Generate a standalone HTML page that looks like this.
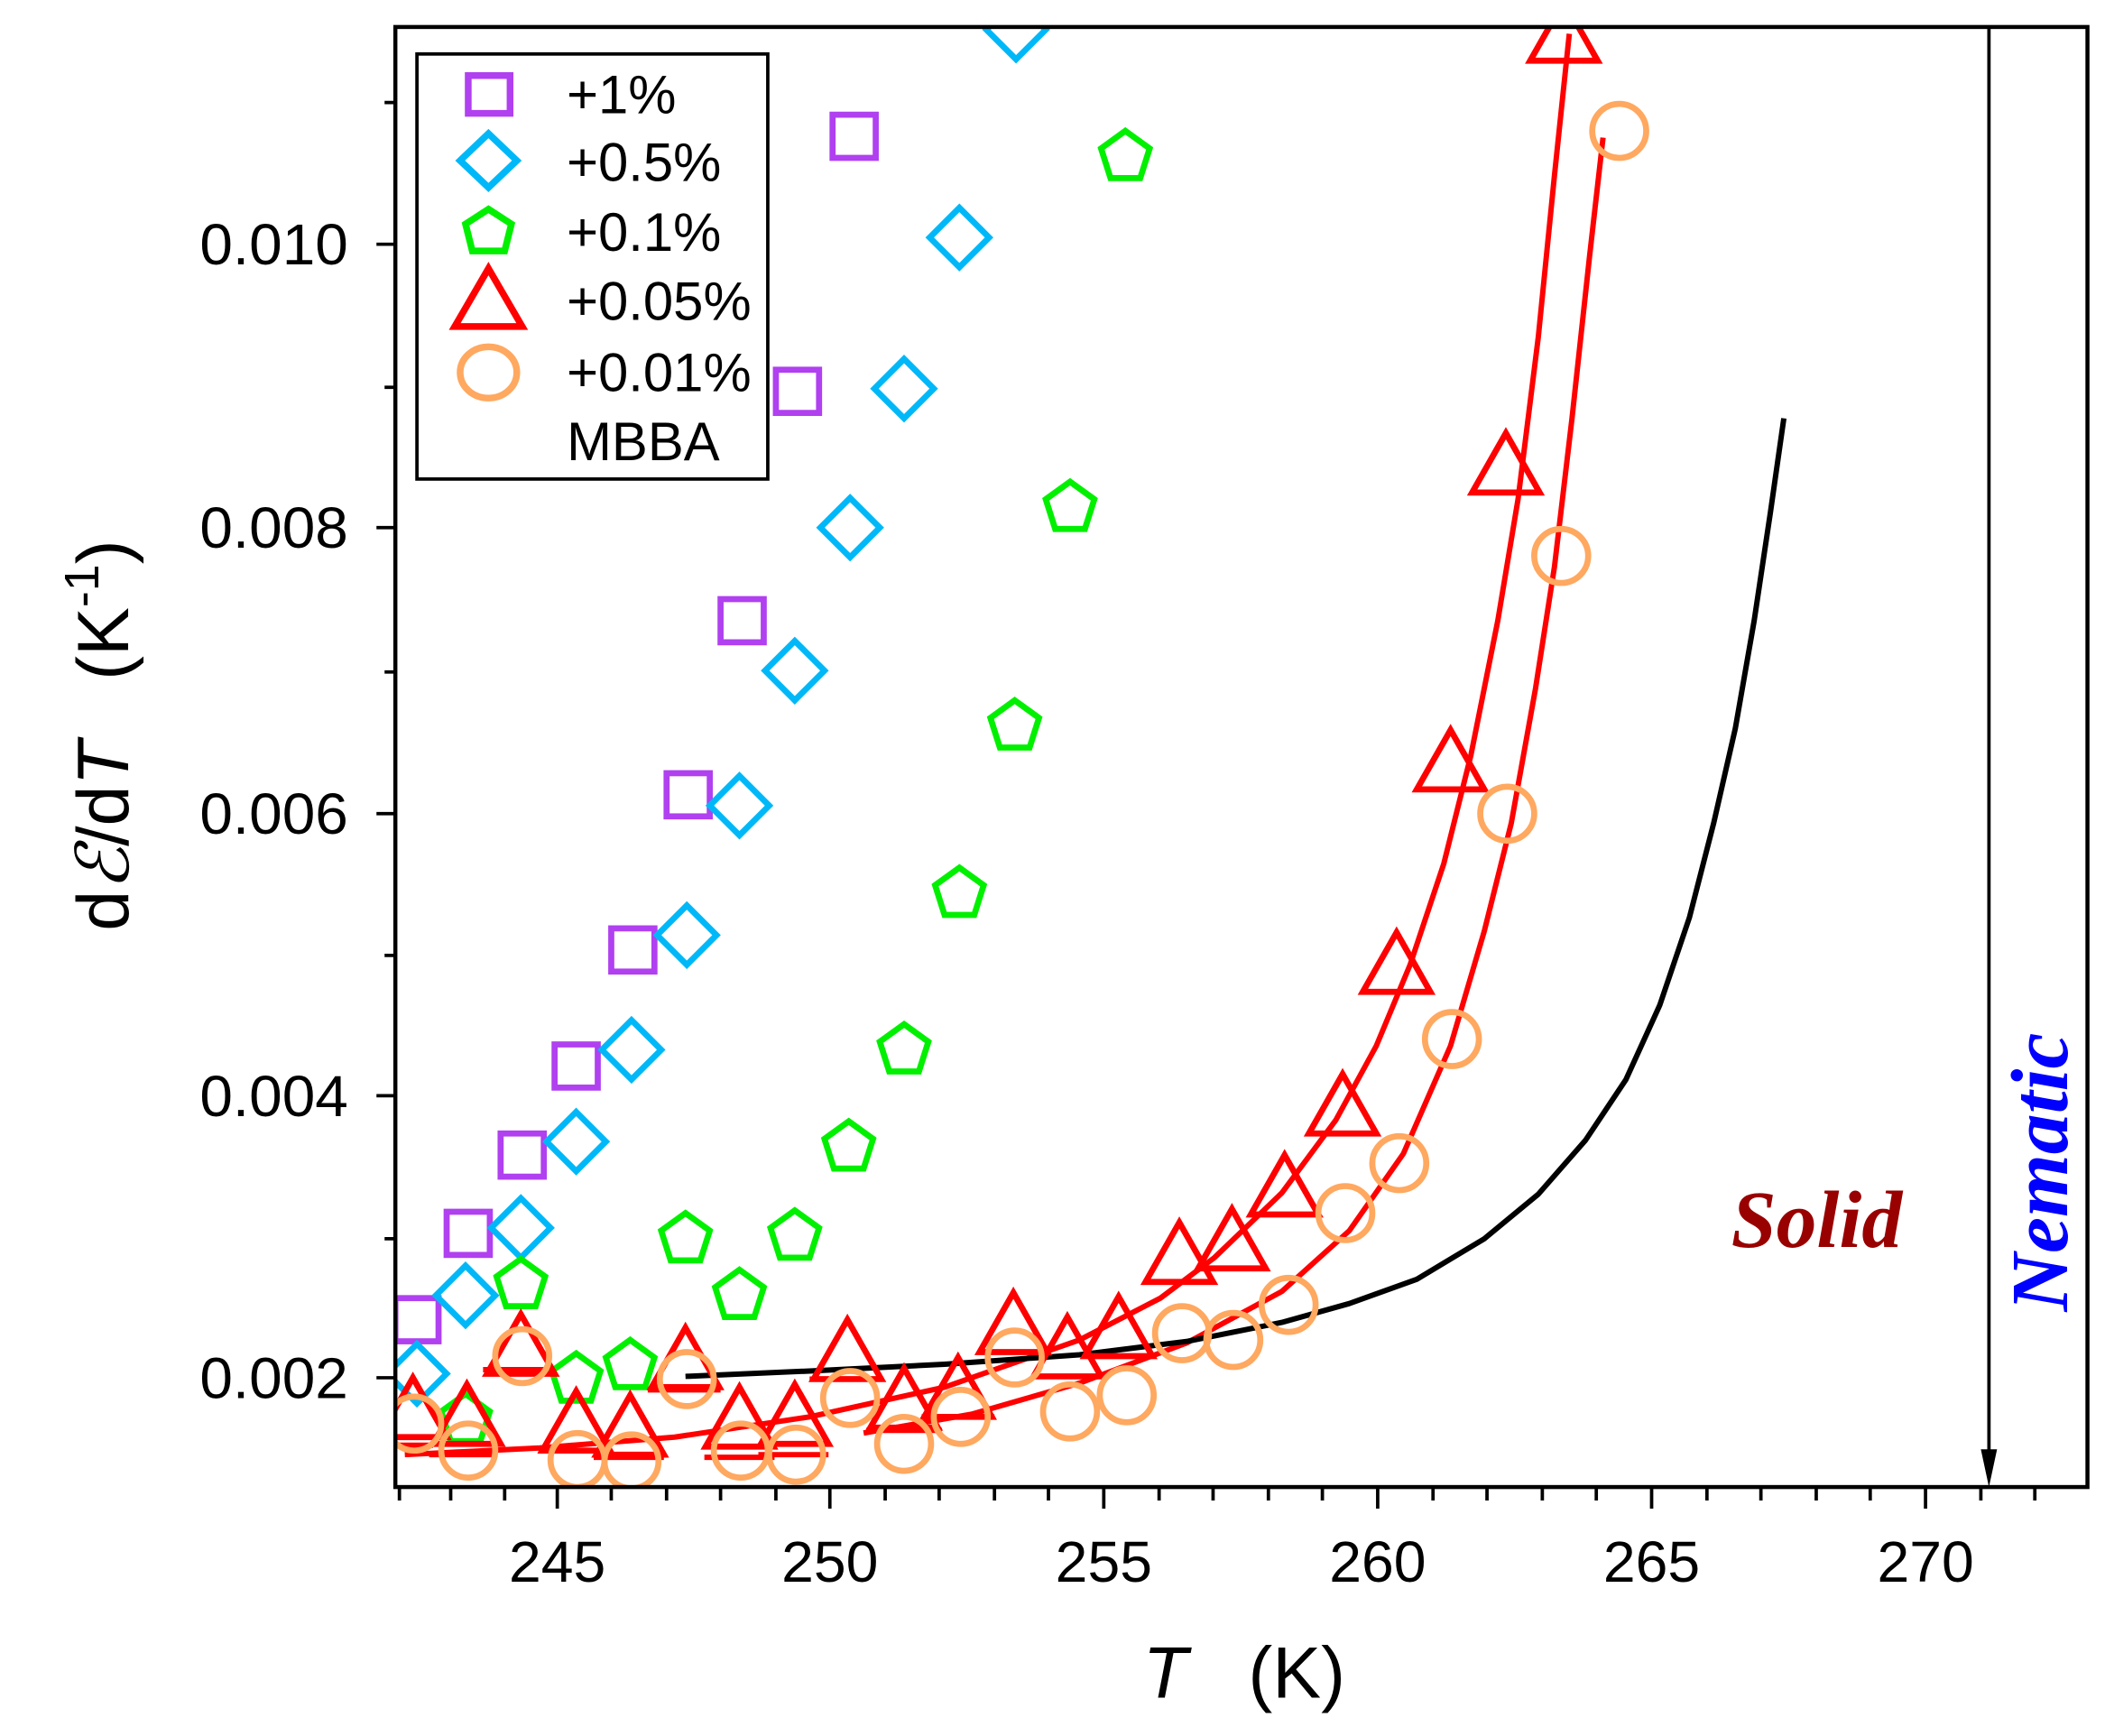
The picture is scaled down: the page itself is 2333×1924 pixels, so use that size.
<!DOCTYPE html>
<html><head><meta charset="utf-8"><style>
html,body{margin:0;padding:0;background:#fff;}
svg{display:block;}
</style></head><body>
<svg width="2333" height="1924" viewBox="0 0 1560 1286.5" preserveAspectRatio="none" xmlns="http://www.w3.org/2000/svg" font-family="Liberation Sans, sans-serif">
<defs><clipPath id="pa"><rect x="293" y="20" width="1254" height="1082"/></clipPath></defs>
<rect width="1560" height="1287" fill="#fff"/>
<g clip-path="url(#pa)" fill="none" stroke-width="4.5" stroke-linejoin="miter">
<polyline stroke="#f00" stroke-width="4" stroke-linejoin="round" points="300,1078 400,1073 500,1065 600,1050 700,1028 800,993 860,962 900,932 950,884 990,830 1020,775 1045,715 1070,640 1090,560 1110,460 1125,370 1140,250 1152,130 1163,25"/>
<polyline stroke="#f00" stroke-width="4" stroke-linejoin="round" points="640,1062 720,1048 800,1025 880,995 950,957 1000,912 1040,855 1075,775 1100,690 1120,610 1138,510 1152,420 1165,310 1178,190 1188,102"/>
<polyline stroke="#000" stroke-width="4" stroke-linejoin="round" points="508,1020 600,1016 700,1011 800,1004 880,994 950,980 1000,966 1050,948 1100,918 1140,885 1175,845 1205,800 1230,745 1252,680 1270,610 1286,540 1300,460 1312,380 1322,310"/>
<g stroke="#b040f0">
<rect x="293" y="962" width="32" height="32"/><rect x="331" y="898" width="32" height="32"/><rect x="371" y="840" width="32" height="32"/><rect x="411" y="774" width="32" height="32"/><rect x="453" y="688" width="32" height="32"/><rect x="494" y="573" width="32" height="32"/><rect x="534" y="444" width="32" height="32"/><rect x="575" y="274" width="32" height="32"/><rect x="617" y="85" width="32" height="32"/>
</g>
<g stroke="#00b8f8">
<path d="M309,996l22,22l-22,22l-22,-22z M345,938l22,22l-22,22l-22,-22z M386,888l22,22l-22,22l-22,-22z M427,824l22,22l-22,22l-22,-22z M468,756l22,22l-22,22l-22,-22z M509,671l22,22l-22,22l-22,-22z M548,575l22,22l-22,22l-22,-22z M589,475l22,22l-22,22l-22,-22z M630,369l22,22l-22,22l-22,-22z M670,266l22,22l-22,22l-22,-22z M711,154l22,22l-22,22l-22,-22z M753,0l22,22l-22,22l-22,-22z"/>
</g>
<g stroke="#00f000">
<path id="pg" d="M0,-19L18,-6L11,16L-11,16L-18,-6z" transform="translate(345,1052)"/>
<use href="#pg" transform="translate(41,-100)"/><use href="#pg" transform="translate(82,-30)"/><use href="#pg" transform="translate(122,-40)"/><use href="#pg" transform="translate(163,-134)"/><use href="#pg" transform="translate(203,-92)"/><use href="#pg" transform="translate(244,-136)"/><use href="#pg" transform="translate(284,-202)"/><use href="#pg" transform="translate(325,-274)"/><use href="#pg" transform="translate(366,-390)"/><use href="#pg" transform="translate(407,-514)"/><use href="#pg" transform="translate(448,-676)"/><use href="#pg" transform="translate(489,-936)"/>
</g>
<g stroke="#f00">
<path id="tr" d="M0,-24L25,20L-25,20z" transform="translate(306,1045)"/>
<use href="#tr" transform="translate(40,5)"/><use href="#tr" transform="translate(80,-47)"/><use href="#tr" transform="translate(121,10)"/><use href="#tr" transform="translate(161,13)"/><use href="#tr" transform="translate(202,-37)"/><use href="#tr" transform="translate(242,7)"/><use href="#tr" transform="translate(283,5)"/><use href="#tr" transform="translate(322,-43)"/><use href="#tr" transform="translate(364,-7)"/><use href="#tr" transform="translate(404,-15)"/><use href="#tr" transform="translate(445,-63)"/><use href="#tr" transform="translate(485,-45)"/><use href="#tr" transform="translate(523,-60)"/><use href="#tr" transform="translate(568,-115)"/><use href="#tr" transform="translate(607,-125)"/><use href="#tr" transform="translate(646,-165)"/><use href="#tr" transform="translate(689,-225)"/><use href="#tr" transform="translate(729,-330)"/><use href="#tr" transform="translate(769,-480)"/><use href="#tr" transform="translate(810,-700)"/><use href="#tr" transform="translate(853,-1020)"/>
<path stroke-width="4" d="M293,1071h28 M318,1078h50 M358,1015h48 M399,1075h52 M440,1080h52 M480,1030h54 M522,1080h52 M562,1078h52 M600,1022h52 M642,1060h56 M683,1050h54"/>
</g>
<g stroke="#ffa860">
<circle cx="307" cy="1055" r="20"/><circle cx="347" cy="1075" r="20"/><circle cx="387" cy="1005" r="20"/><circle cx="428" cy="1082" r="20"/><circle cx="468" cy="1083" r="20"/><circle cx="509" cy="1022" r="20"/><circle cx="549" cy="1075" r="20"/><circle cx="590" cy="1078" r="20"/><circle cx="630" cy="1036" r="20"/><circle cx="670" cy="1070" r="20"/><circle cx="712" cy="1050" r="20"/><circle cx="752" cy="1006" r="20"/><circle cx="793" cy="1046" r="20"/><circle cx="835" cy="1034" r="20"/><circle cx="876" cy="988" r="20"/><circle cx="914" cy="993" r="20"/><circle cx="955" cy="967" r="20"/><circle cx="997" cy="899" r="20"/><circle cx="1037" cy="862" r="20"/><circle cx="1076" cy="770" r="20"/><circle cx="1117" cy="603" r="20"/><circle cx="1157" cy="412" r="20"/><circle cx="1200" cy="97" r="20"/>
</g>
</g>
<rect x="293" y="20" width="1254" height="1082" fill="none" stroke="#000" stroke-width="3"/>
<g stroke="#000" stroke-width="2.5">
<path d="M296,1102v10 M334,1102v10 M374,1102v10 M413,1102v16 M453,1102v10 M494,1102v10 M534,1102v10 M575,1102v10 M615,1102v16 M656,1102v10 M696,1102v10 M737,1102v10 M777,1102v10 M818,1102v16 M859,1102v10 M899,1102v10 M940,1102v10 M980,1102v10 M1021,1102v16 M1062,1102v10 M1102,1102v10 M1143,1102v10 M1183,1102v10 M1224,1102v16 M1265,1102v10 M1305,1102v10 M1346,1102v10 M1386,1102v10 M1427,1102v16 M1468,1102v10 M1508,1102v10"/>
<path d="M293,1021h-14 M293,812h-14 M293,603h-14 M293,391h-14 M293,181h-14 M293,918h-8 M293,708h-8 M293,498h-8 M293,287h-8 M293,76h-8"/>
</g>
<g font-size="43" fill="#000" text-anchor="end">
<text x="258" y="1036" textLength="110" lengthAdjust="spacingAndGlyphs">0.002</text><text x="258" y="827" textLength="110" lengthAdjust="spacingAndGlyphs">0.004</text><text x="258" y="618" textLength="110" lengthAdjust="spacingAndGlyphs">0.006</text><text x="258" y="406" textLength="110" lengthAdjust="spacingAndGlyphs">0.008</text><text x="258" y="196" textLength="110" lengthAdjust="spacingAndGlyphs">0.010</text>
</g>
<g font-size="43" fill="#000" text-anchor="middle">
<text x="413" y="1172">245</text><text x="615" y="1172">250</text><text x="818" y="1172">255</text><text x="1021" y="1172">260</text><text x="1224" y="1172">265</text><text x="1427" y="1172">270</text>
</g>
<text x="922" y="1258" font-size="54" text-anchor="middle" xml:space="preserve"><tspan font-style="italic">T</tspan>   (K)</text>
<text transform="translate(95,545) rotate(-90)" font-size="54" text-anchor="middle" xml:space="preserve">d<tspan font-style="italic">ℰ</tspan>/d<tspan font-style="italic">T</tspan>   (K<tspan font-size="36" dy="-22">-1</tspan><tspan dy="22">)</tspan></text>
<path d="M1474,20V1080" stroke="#000" stroke-width="2.5"/>
<path d="M1468,1074L1474,1102L1480,1074z" fill="#000"/>
<text x="1283" y="924" style="font-family:'Liberation Serif',serif" font-weight="bold" font-style="italic" font-size="60" fill="#990000">Solid</text>
<text transform="translate(1532,972) rotate(-90)" style="font-family:'Liberation Serif',serif" font-weight="bold" font-style="italic" font-size="60" fill="#0000ff">Nematic</text>
<rect x="309" y="40" width="260" height="315" fill="#fff" stroke="#000" stroke-width="2.5"/>
<g fill="none" stroke-width="5">
<rect x="347" y="56" width="31" height="28" stroke="#b040f0"/>
<path d="M362,99l21,20l-21,20l-21,-20z" stroke="#00b8f8"/>
<path d="M362,155l17,11l-5,20h-24l-5,-20z" stroke="#00f000"/>
<path d="M362,199l25,43h-50z" stroke="#f00"/>
<ellipse cx="362" cy="276" rx="21" ry="19" stroke="#ffa860"/>
</g>
<g font-size="40" fill="#000">
<text x="420" y="84">+1%</text><text x="420" y="134">+0.5%</text><text x="420" y="186">+0.1%</text><text x="420" y="237">+0.05%</text><text x="420" y="290">+0.01%</text><text x="420" y="341">MBBA</text>
</g>
</svg>
</body></html>
